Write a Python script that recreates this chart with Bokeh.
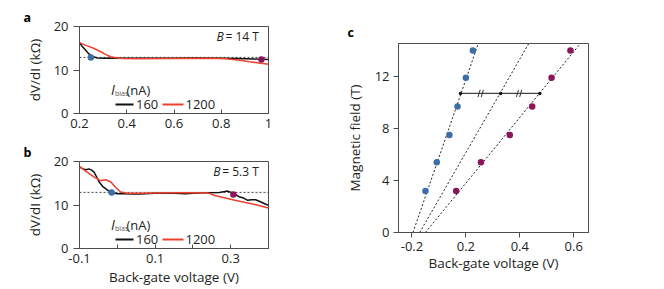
from bokeh.plotting import figure
from bokeh.models import Label, FixedTicker, Range1d
from bokeh.layouts import row, column
from bokeh.embed import file_html
from bokeh.resources import INLINE

FONT = "Open Sans"
AX = "#4d4d4d"
TXT = "#231f20"
RED = "#ee4130"
BLK = "#111111"
BLUE = "#3d6ea8"
PURP = "#8a1759"

# ---------------- data ----------------
# panel a  (B = 14 T)
a_vg_160 = [0.2, 0.212, 0.227, 0.24, 0.255, 0.276, 0.3, 0.4, 0.5, 0.6, 0.7, 0.8, 0.86, 0.9, 0.94, 0.97, 1.0]
a_r_160 = [16.3, 15.4, 14.5, 13.7, 13.1, 12.75, 12.7, 12.7, 12.7, 12.7, 12.75, 12.7, 12.65, 12.6, 12.55, 12.5, 12.4]
a_vg_1200 = [0.2, 0.23, 0.26, 0.29, 0.31, 0.332, 0.354, 0.38, 0.45, 0.6, 0.75, 0.82, 0.87, 0.92, 0.96, 1.0]
a_r_1200 = [16.3, 15.6, 15.0, 14.2, 13.6, 13.05, 12.8, 12.65, 12.6, 12.65, 12.7, 12.6, 12.3, 11.9, 11.6, 11.3]
a_dot_vg = [0.248, 0.97]
a_dot_r = [12.9, 12.4]

# panel b  (B = 5.3 T)
b_vg_160 = [-0.1, -0.09, -0.083, -0.075, -0.068, -0.061, -0.055, -0.048, -0.039, -0.03, -0.022, -0.013,
            0.0, 0.018, 0.04, 0.06, 0.1, 0.15, 0.18, 0.2, 0.24, 0.27, 0.292, 0.307, 0.322, 0.334,
            0.344, 0.355, 0.366, 0.38, 0.39, 0.4]
b_r_160 = [18.7, 18.3, 18.1, 18.3, 18.0, 17.5, 16.5, 15.3, 14.3, 13.7, 13.2, 12.8,
           12.6, 12.6, 12.5, 12.55, 12.7, 12.7, 12.6, 12.7, 12.8, 12.9, 13.2, 12.7, 11.9, 11.6,
           11.1, 11.2, 11.2, 10.7, 10.3, 9.9]
b_vg_1200 = [-0.1, -0.09, -0.079, -0.061, -0.044, -0.03, -0.017, -0.004, 0.009, 0.027, 0.06, 0.1,
             0.15, 0.2, 0.23, 0.243, 0.2575, 0.311, 0.364, 0.4]
b_r_1200 = [18.9, 18.2, 17.5, 16.4, 15.6, 15.8, 15.3, 14.0, 13.0, 12.7, 12.7, 12.75,
            12.8, 12.8, 12.75, 12.7, 12.2, 11.07, 10.1, 9.3]
b_dot_vg = [-0.015, 0.307]
b_dot_r = [12.9, 12.4]

r_plateau = 12.9  # h/2e^2 in kOhm
bias_labels = ["160", "1200"]

# panel c
c_field = [3.2, 5.4, 7.5, 9.7, 11.9, 14.0]
c_vg_blue = [0.050, 0.092, 0.139, 0.169, 0.200, 0.226]
c_vg_purple = [0.164, 0.256, 0.363, 0.446, 0.518, 0.588]
fit_v0 = [0.0037, 0.0286, 0.0497]        # V at B = 0
fit_slope = [0.01667, 0.02785, 0.03957]  # V per T
bar_field = 10.7
bar_vg = [0.180, 0.329, 0.4745]
break_vg = [0.255, 0.3975]

a_xticks = [0.2, 0.4, 0.6, 0.8, 1.0]
b_xticks = [-0.1, 0.0, 0.1, 0.2, 0.3, 0.4]
ab_yticks = [0, 10, 20]
c_xticks = [0.0, 0.2, 0.4, 0.6]
c_yticks = [0, 4, 8, 12]

# ------------- geometry (page px of frames) -------------
FR = {
    "a": dict(L=79, R=268, T=26, B=113, x=(0.2, 1.0), y=(0, 20)),
    "b": dict(L=79, R=268, T=161, B=248, x=(-0.1, 0.4), y=(0, 20)),
    "c": dict(L=398, R=588, T=43, B=232, x=(-0.05, 0.655), y=(0, 14.54)),
}


def dx(k, px):
    f = FR[k]
    return f["x"][0] + (px - f["L"]) * (f["x"][1] - f["x"][0]) / (f["R"] - f["L"])


def dy(k, py):
    f = FR[k]
    return f["y"][0] + (f["B"] - py) * (f["y"][1] - f["y"][0]) / (f["B"] - f["T"])


def make(k, width, height, top, bottom, left, letter, letter_offset, letter_standoff):
    f = FR[k]
    p = figure(width=width, height=height, x_range=Range1d(*f["x"]), y_range=Range1d(*f["y"]),
               output_backend="svg", toolbar_location=None, title=letter,
               min_border_left=left, min_border_right=width - left - (f["R"] - f["L"]),
               min_border_top=top, min_border_bottom=bottom)
    p.title.align = "left"
    p.title.offset = letter_offset
    p.title.standoff = letter_standoff
    p.title.text_font = FONT
    p.title.text_font_size = "12.5px"
    p.title.text_font_style = "bold"
    p.title.text_color = "#000000"
    p.xgrid.visible = False
    p.ygrid.visible = False
    p.outline_line_color = AX
    p.outline_line_alpha = 1
    p.outline_line_width = 1
    p.background_fill_color = "white"
    p.border_fill_color = "white"
    for ax in p.axis:
        ax.axis_line_color = AX
        ax.major_tick_line_color = AX
        ax.minor_tick_line_color = None
        ax.major_label_text_font = FONT
        ax.major_label_text_font_size = "13px"
        ax.major_label_text_color = TXT
        ax.axis_label_text_font = FONT
        ax.axis_label_text_font_style = "normal"
        ax.axis_label_text_font_size = "13.5px"
        ax.axis_label_text_color = TXT
    return p


def lab(p, x, y, text, size="13px", style="normal", align="left", baseline="alphabetic", color=TXT):
    p.add_layout(Label(x=x, y=y, text=text, text_font=FONT, text_font_size=size,
                       text_font_style=style, text_align=align, text_baseline=baseline,
                       text_color=color))


def resistance_panel(k, width, height, top, bottom, vg160, r160, vg1200, r1200, dvg, dr,
                     xticks, overrides, letter, bval, bpos, xlabel):
    f = FR[k]
    p = make(k, width, height, top, bottom, f["L"], letter, 23 - f["L"], 1)
    p.xaxis.ticker = FixedTicker(ticks=xticks)
    p.xaxis.major_label_overrides = overrides
    p.xaxis.major_tick_in = 4
    p.xaxis.major_tick_out = 0
    p.xaxis.major_label_standoff = 5
    if xlabel:
        p.xaxis.axis_label = xlabel
        p.xaxis.axis_label_standoff = 2
    p.yaxis.ticker = FixedTicker(ticks=ab_yticks)
    p.yaxis.major_tick_in = 0
    p.yaxis.major_tick_out = 6
    p.yaxis.major_label_standoff = 5
    p.yaxis.axis_label = "dV/dI (kΩ)"
    p.yaxis.axis_label_standoff = 7

    p.line(x=list(f["x"]), y=[r_plateau, r_plateau], line_color="#333333", line_width=0.9,
           line_dash="2 2")
    p.line(x=vg160, y=r160, line_color=BLK, line_width=1.5)
    p.line(x=vg1200, y=r1200, line_color=RED, line_width=1.5)
    p.scatter(x=dvg[:1], y=dr[:1], size=6.5, fill_color=BLUE, line_color=None)
    p.scatter(x=dvg[1:], y=dr[1:], size=6.5, fill_color=PURP, line_color=None)

    # legend (title + two samples)
    T = f["T"]
    lab(p, dx(k, 110.5), dy(k, T + 63), "I", size="14px", style="italic")
    lab(p, dx(k, 114.5), dy(k, T + 67), "bias", size="7px", color="#555555")
    lab(p, dx(k, 126), dy(k, T + 63), "(nA)", size="13px")
    ly = dy(k, T + 78)
    p.segment(x0=[dx(k, 115)], y0=[ly], x1=[dx(k, 133)], y1=[ly], line_color=BLK, line_width=1.8)
    p.segment(x0=[dx(k, 162)], y0=[ly], x1=[dx(k, 183)], y1=[ly], line_color=RED, line_width=1.8)
    lab(p, dx(k, 135.5), ly, bias_labels[0], size="13px", baseline="middle")
    lab(p, dx(k, 185), ly, bias_labels[1], size="13px", baseline="middle")

    lab(p, dx(k, bpos[0]), dy(k, T + 10), "B", size="12px", style="italic")
    lab(p, dx(k, bpos[1]), dy(k, T + 10), bval, size="12px")
    return p


pa = resistance_panel("a", 308, 139, 26, 26, a_vg_160, a_r_160, a_vg_1200, a_r_1200,
                      a_dot_vg, a_dot_r, a_xticks, {1.0: "1"}, "a", "= 14 T", (216, 225), None)
pb = resistance_panel("b", 308, 150, 22, 41, b_vg_160, b_r_160, b_vg_1200, b_r_1200,
                      b_dot_vg, b_dot_r, b_xticks, {-0.1: "-0.1", 0.0: "", 0.2: "", 0.4: ""},
                      "b", "= 5.3 T", (212.7, 221.7), "Back-gate voltage (V)")

# ---------------- panel c ----------------
fc = FR["c"]
pc = make("c", 310, 289, 43, 57, fc["L"] - 308, "c", 347 - fc["L"], 5)
pc.xaxis.ticker = FixedTicker(ticks=c_xticks)
pc.xaxis.major_label_overrides = {0.0: "-0.2"}
pc.xaxis.major_tick_in = 0
pc.xaxis.major_tick_out = 5
pc.xaxis.major_label_standoff = 4
pc.xaxis.axis_label = "Back-gate voltage (V)"
pc.xaxis.axis_label_standoff = 0
pc.yaxis.ticker = FixedTicker(ticks=c_yticks)
pc.yaxis.major_tick_in = 0
pc.yaxis.major_tick_out = 5
pc.yaxis.major_label_standoff = 4
pc.yaxis.axis_label = "Magnetic field (T)"
pc.yaxis.axis_label_standoff = 8

B_end = 15.0
for v0, s in zip(fit_v0, fit_slope):
    pc.line(x=[v0, v0 + s * B_end], y=[0, B_end], line_color="#222222", line_width=1,
            line_dash="2 2")

pc.line(x=[bar_vg[0], bar_vg[-1]], y=[bar_field, bar_field], line_color="#444444", line_width=1.2)
pc.scatter(x=bar_vg, y=[bar_field] * len(bar_vg), size=3.5, fill_color="#111111", line_color=None)
for bv in break_vg:
    for off in (-0.006, 0.006):
        pc.segment(x0=[bv + off - 0.004], y0=[bar_field - 0.28], x1=[bv + off + 0.004],
                   y1=[bar_field + 0.28], line_color="#333333", line_width=1)

pc.scatter(x=c_vg_blue, y=c_field, size=6.5, fill_color=BLUE, line_color=None)
pc.scatter(x=c_vg_purple, y=c_field, size=6.5, fill_color=PURP, line_color=None)

layout = row(column(pa, pb), pc)
open("out.html", "w").write(file_html(layout, INLINE))
